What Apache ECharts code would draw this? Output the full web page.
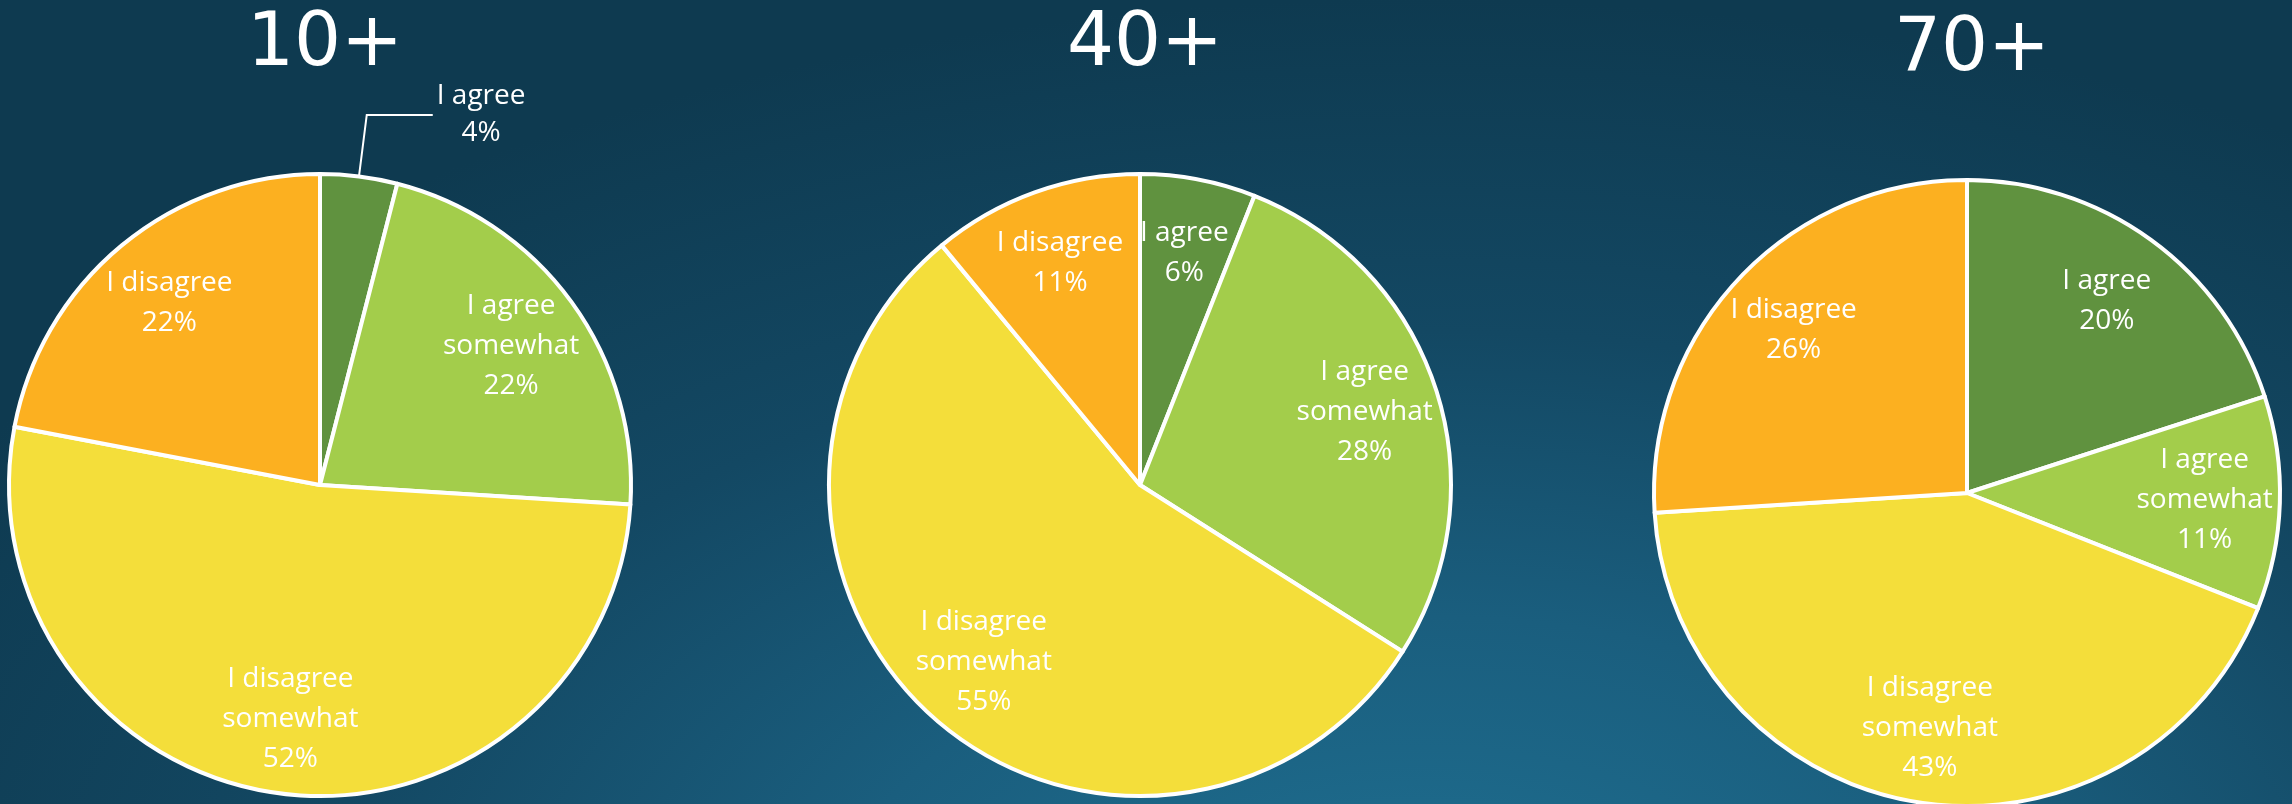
<!DOCTYPE html>
<html>
<head>
<meta charset="utf-8">
<script src="https://cdn.jsdelivr.net/npm/echarts@6/dist/echarts.min.js"></script>
<style>
html,body{margin:0;padding:0;width:2292px;height:804px;overflow:hidden;}
body{background:radial-gradient(ellipse 1700px 950px at 62% 118%, #1f7092 0%, #1a5e7e 35%, #134863 65%, #0e3a50 100%);}
#chart{width:2292px;height:804px;}
</style>
</head>
<body>
<div id="chart"></div>
<script>
const categories = ['I agree', 'I agree somewhat', 'I disagree somewhat', 'I disagree'];
const groupTitles = ['10+', '40+', '70+'];
const values10 = [4, 22, 52, 22];
const values40 = [6, 28, 55, 11];
const values70 = [20, 11, 43, 26];
const colors = ['#60923f', '#a3cd4b', '#f4de3a', '#fcb020'];

const groups = [values10, values40, values70];
const centers = [[320, 485], [1140, 485], [1967, 493]];
const radii = [311, 311, 313];
const titleTops = [1, 1, 6];
const outsideLabelIdx = [[0], [], []];

const fontFamily = '"Open Sans", "Noto Sans", sans-serif';
const titleFont = '"DejaVu Sans", sans-serif';
const labelText = p => p.name.replace(' somewhat', '\nsomewhat') + '\n' + p.value + '%';

const series = [];
groups.forEach((vals, g) => {
  // visible pie
  series.push({
    type: 'pie',
    center: centers[g],
    radius: [0, radii[g]],
    startAngle: 90,
    clockwise: true,
    avoidLabelOverlap: false,
    silent: true,
    label: { show: false },
    labelLine: { show: false },
    itemStyle: { borderColor: '#ffffff', borderWidth: 4 },
    data: vals.map((v, i) => {
      const item = { name: categories[i], value: v, itemStyle: { color: colors[i] } };
      if (outsideLabelIdx[g].indexOf(i) >= 0) {
        item.label = {
          show: true, position: 'outside',
          formatter: p => '{c|' + labelText(p).split('\n').join('}\n{c|') + '}',
          rich: { c: { color: '#ffffff', fontFamily: fontFamily, fontSize: 28, lineHeight: 37, align: 'center' } },
          color: '#ffffff', fontFamily: fontFamily, fontSize: 28, lineHeight: 37,
          distanceToLabelLine: 4
        };
        item.labelLine = {
          show: true, length: 62, length2: 66, smooth: false,
          lineStyle: { color: '#ffffff', width: 2 }
        };
      }
      return item;
    })
  });
  // transparent ring carrying inside labels at ~3/4 radius
  series.push({
    type: 'pie',
    center: centers[g],
    radius: [radii[g] * 0.5, radii[g]],
    startAngle: 90,
    clockwise: true,
    avoidLabelOverlap: false,
    silent: true,
    z: 5,
    itemStyle: { color: 'rgba(0,0,0,0)', borderWidth: 0 },
    label: {
      show: true, position: 'inside', formatter: labelText,
      color: '#ffffff', fontFamily: fontFamily, fontSize: 28, lineHeight: 40,
      textBorderWidth: 0
    },
    labelLine: { show: false },
    data: vals.map((v, i) => ({
      name: categories[i], value: v,
      label: { show: outsideLabelIdx[g].indexOf(i) < 0 }
    }))
  });
});

const chart = echarts.init(document.getElementById('chart'), null, { renderer: 'canvas' });
chart.setOption({
  backgroundColor: 'transparent',
  animation: false,
  title: groupTitles.map((t, g) => ({
    text: t,
    left: centers[g][0],
    top: titleTops[g],
    textAlign: 'center',
    textStyle: { color: '#ffffff', fontFamily: titleFont, fontSize: 74, fontWeight: 'normal', lineHeight: 80 }
  })),
  series: series
});
</script>
</body>
</html>
